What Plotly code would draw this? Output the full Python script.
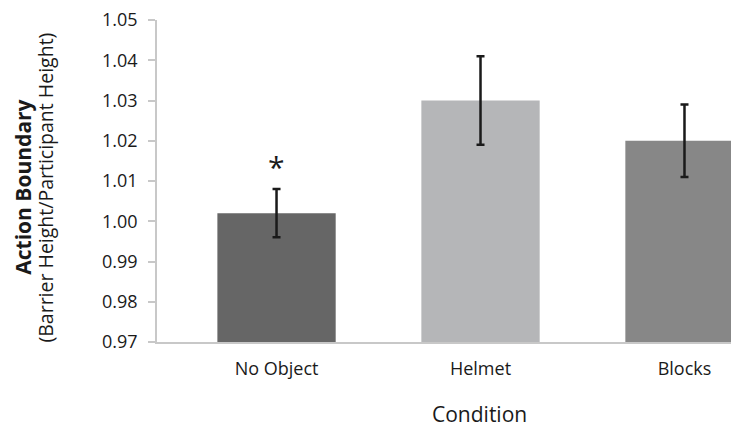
import plotly.graph_objects as go

# Action boundary per condition (mean with error)
conditions = ["No Object", "Helmet", "Blocks"]
means = [1.002, 1.030, 1.020]
errors = [0.006, 0.011, 0.009]
bar_colors = ["#666666", "#b5b6b8", "#878787"]
y_ticks = [0.97, 0.98, 0.99, 1.00, 1.01, 1.02, 1.03, 1.04, 1.05]
y_tick_labels = [f"{v:.2f}" for v in y_ticks]

FONT = "Open Sans"
INK = "#1a1a1a"

fig = go.Figure(
    go.Bar(
        x=conditions,
        y=means,
        marker=dict(color=bar_colors, line=dict(width=0)),
        error_y=dict(type="data", array=errors, visible=True,
                     color=INK, thickness=2.5, width=4),
        width=0.58,
        showlegend=False,
    )
)

fig.update_layout(
    width=731,
    height=430,
    margin=dict(l=157, r=0, t=20, b=88),
    paper_bgcolor="white",
    plot_bgcolor="white",
    font=dict(family=FONT, color=INK),
    xaxis=dict(
        type="category",
        range=[-0.586, 2.228],
        showline=True,
        linecolor="#c8c8c8",
        linewidth=1.5,
        ticks="",
        tickfont=dict(size=18, family=FONT, color=INK),
        ticklabelstandoff=10,
        showgrid=False,
        zeroline=False,
    ),
    yaxis=dict(
        range=[0.97, 1.05],
        tickvals=y_ticks,
        ticktext=y_tick_labels,
        showline=True,
        linecolor="#c8c8c8",
        linewidth=1.5,
        ticks="outside",
        ticklen=7,
        tickwidth=1.5,
        tickcolor="#c8c8c8",
        tickfont=dict(size=18, family=FONT, color=INK),
        ticklabelstandoff=7,
        showgrid=False,
        zeroline=False,
    ),
    annotations=[
        dict(text="<b>Action Boundary</b>", xref="paper", yref="paper",
             x=-0.233, y=0.48, xanchor="center", yanchor="middle",
             textangle=-90, showarrow=False,
             font=dict(size=21, family=FONT, color=INK)),
        dict(text="(Barrier Height/Participant Height)", xref="paper", yref="paper",
             x=-0.195, y=0.48, xanchor="center", yanchor="middle",
             textangle=-90, showarrow=False,
             font=dict(size=19.5, family=FONT, color=INK)),
        dict(text="Condition", xref="paper", yref="paper",
             x=0.5627, y=-0.2715, xanchor="center", yanchor="bottom",
             showarrow=False, borderpad=0,
             font=dict(size=21, family=FONT, color=INK)),
        dict(text="*", x="No Object", y=1.0137, xref="x", yref="y",
             xanchor="center", yanchor="middle", showarrow=False,
             font=dict(size=30, family=FONT, color=INK)),
    ],
)

fig.write_html("out.html")
